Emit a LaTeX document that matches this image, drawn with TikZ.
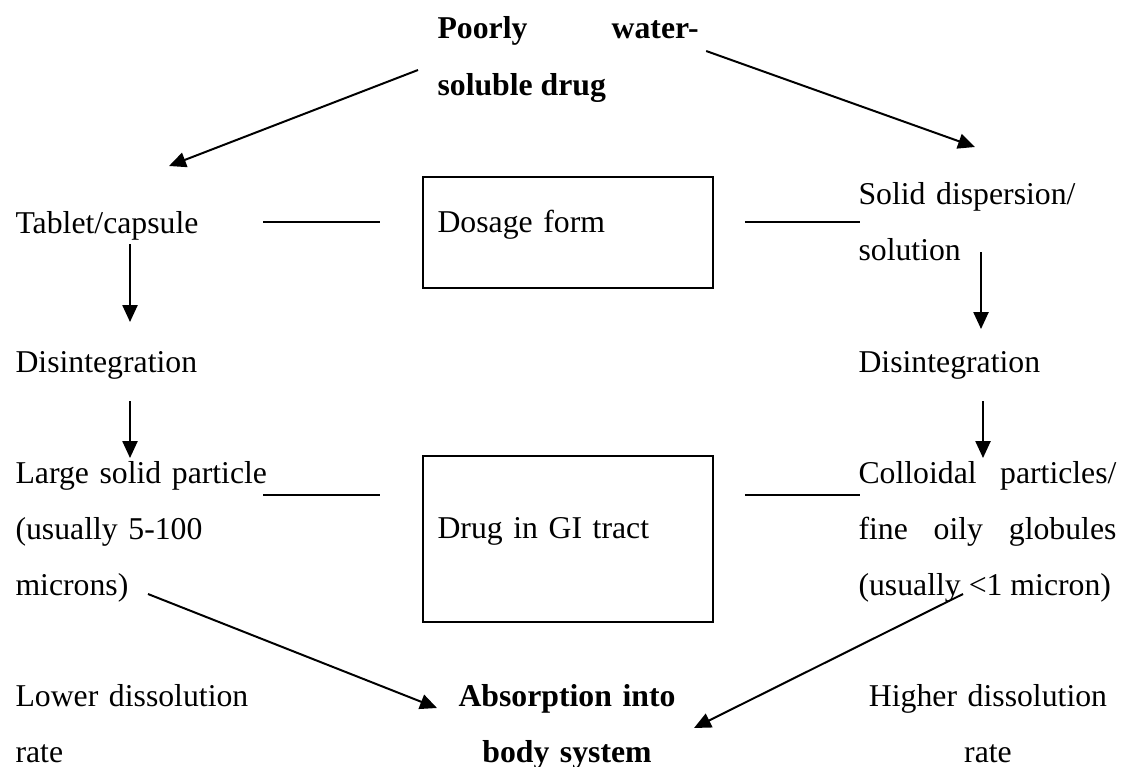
\documentclass[tikz,border=0pt]{standalone}
\usepackage{fontspec}
\setmainfont{Liberation Serif}
\usetikzlibrary{arrows.meta}

\begin{document}
\begin{tikzpicture}[x=0.378pt,y=-0.378pt,
  txt/.style={inner sep=0pt,anchor=base west,align=left,text width=100pt,font=\fontsize{12}{21.2}\selectfont},
  btxt/.style={txt,font=\bfseries\fontsize{12}{21.2}\selectfont},
  box/.style={draw,line width=0.75pt,inner sep=0pt,anchor=north west,minimum width=109.6pt},
  arr/.style={line width=0.75pt,-{Triangle[length=6.4pt,width=5.7pt]}},
  ln/.style={line width=0.75pt}]

\useasboundingbox (0,0) rectangle (1123,766);

% text
\node[btxt,text width=98.7pt,align=justify] (drug) at (437,39) {Poorly\hfill water-\\soluble drug};
\node[txt] (tablet) at (15,233) {Tablet/capsule};
\node[txt] (solid) at (858,204) {Solid dispersion/\\solution};
\node[txt] (disintl) at (15,372) {Disintegration};
\node[txt] (disintr) at (858,372) {Disintegration};
\node[txt] (large) at (15,483) {Large solid particle\\(usually 5-100\\microns)};
\node[txt,text width=97.5pt,align=justify] (colloid) at (858,483) {Colloidal\hfill particles/\\fine\hfill oily\hfill globules\\(usually <1 micron)};
\node[txt] (lower) at (15,706) {Lower dissolution\\rate};
\node[btxt,anchor=base,text width=86.9pt,align=center] (absorb) at (567,706) {Absorption into\\body system};
\node[txt,anchor=base,text width=94.5pt,align=center] (higher) at (988,706) {Higher dissolution\\rate};

% boxes
\node[box,minimum height=42pt] (dosage) at (422,176) {};
\node[txt] (dosagetext) at ([shift={(15,56)}]dosage.north west) {Dosage form};
\node[box,minimum height=62.7pt] (gi) at (422,455) {};
\node[txt] (gitext) at ([shift={(15,83)}]gi.north west) {Drug in GI tract};

% lines
\draw[ln] ([shift={(248,-11)}]tablet.base west) -- ([shift={(-42,46)}]dosage.north west);
\draw[ln] ([shift={(31,46)}]dosage.north east) -- ([shift={(2,18)}]solid.base west);
\draw[ln] ([shift={(248,12)}]large.base west) -- ([shift={(-42,40)}]gi.north west);
\draw[ln] ([shift={(31,40)}]gi.north east) -- ([shift={(2,12)}]colloid.base west);

% arrows
\draw[arr] ([shift={(-19,31)}]drug.base west) -- ([shift={(154,-67)}]tablet.base west);
\draw[arr] ([shift={(7,12)}]drug.base east) -- ([shift={(117,-57)}]solid.base west);
\draw[arr] ([shift={(115,11)}]tablet.base west) -- ([shift={(115,-50)}]disintl.base west);
\draw[arr] ([shift={(123,48)}]solid.base west) -- ([shift={(123,-43)}]disintr.base west);
\draw[arr] ([shift={(115,29)}]disintl.base west) -- ([shift={(115,-25)}]large.base west);
\draw[arr] ([shift={(125,29)}]disintr.base west) -- ([shift={(125,-25)}]colloid.base west);
\draw[arr] ([shift={(133,111)}]large.base west) -- ([shift={(-130,2)}]absorb.base);
\draw[arr] ([shift={(105,111)}]colloid.base west) -- ([shift={(127,22)}]absorb.base);

\end{tikzpicture}
\end{document}
